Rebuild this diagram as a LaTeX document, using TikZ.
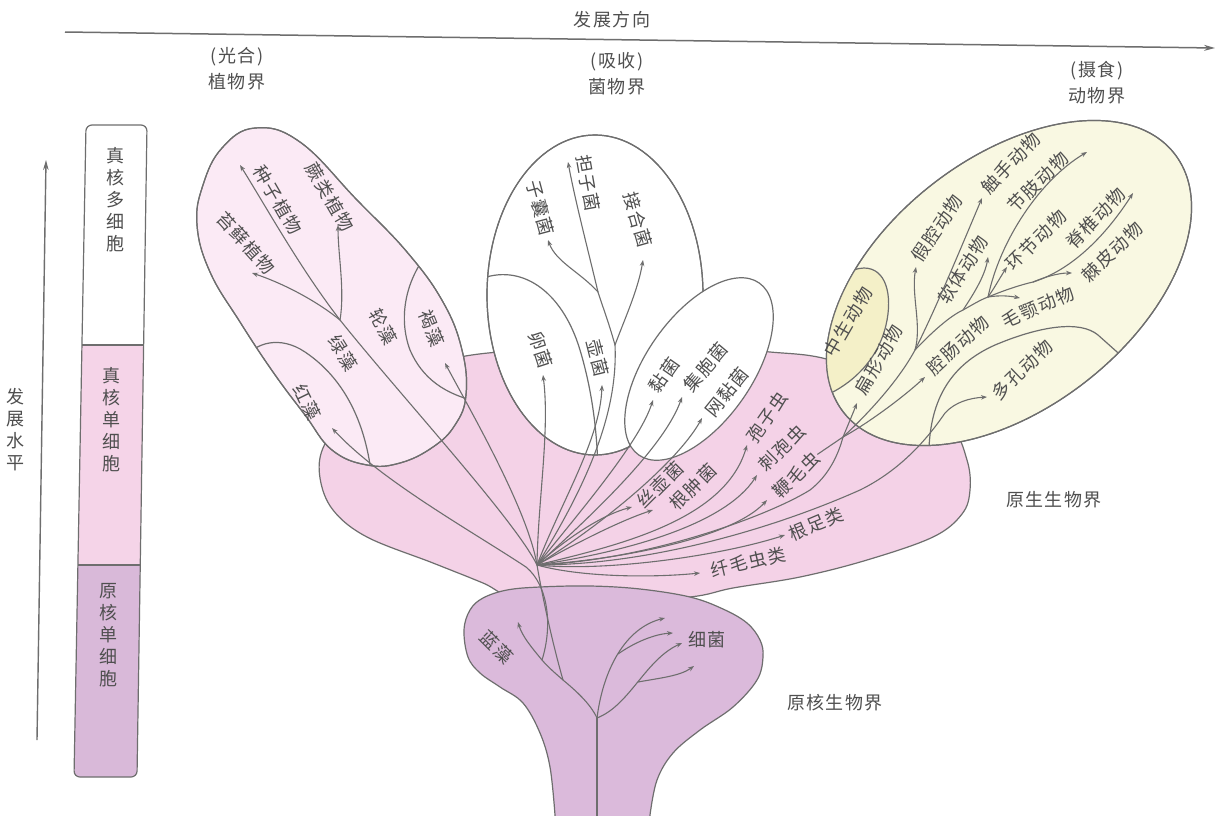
\documentclass[tikz,border=0pt]{standalone}
\usepackage{fontspec}
\setmainfont{Noto Sans CJK SC}[LetterSpace=8]
\usetikzlibrary{arrows.meta}
\definecolor{protC}{HTML}{F4D2E7}
\definecolor{prokC}{HTML}{DBBADB}
\definecolor{plantC}{HTML}{FBEAF5}
\definecolor{animC}{HTML}{F9F8E2}
\definecolor{mesoC}{HTML}{F4F0C8}
\definecolor{edgeC}{HTML}{6E6E6E}
\definecolor{txtC}{HTML}{4F4F4F}
\definecolor{barPink}{HTML}{F5D4E8}
\definecolor{barPurp}{HTML}{D9B9D9}
\newcommand\labfont{\fontsize{18}{22}\selectfont}
\newcommand\vfont{\fontsize{18}{22}\selectfont}
\newcommand\plantpath{plot[smooth cycle,tension=0.7] coordinates {(197,225) (203,185) (222,148) (255,128) (300,142) (357,200) (407,252) (443,302) (462,350) (466,395) (455,425) (433,447) (400,463) (367,465) (332,450) (305,415) (273,372) (240,322) (210,272)}}
\newcommand\fungipath{(595,295) ellipse [x radius=108pt, y radius=160pt]}
\newcommand\animpath{[rotate around={38:(1009,283)}] (1009,283) ellipse [x radius=210pt, y radius=125pt]}
\begin{document}
\begin{tikzpicture}[x=1pt,y=-1pt,
  lab/.style={text=txtC,font=\labfont,inner sep=1pt},
  vlab/.style={text=txtC,font=\vfont,align=center,inner sep=1pt},
  ln/.style={draw=edgeC,line width=1.1pt},
  arr/.style={ln,-{Stealth[length=6pt,width=4.5pt]}},
  shp/.style={draw=edgeC,line width=1.2pt}]
\useasboundingbox (0,0) rectangle (1223,815);
\clip (0,0) rectangle (1223,815);
\fill[white] (0,0) rectangle (1223,815);

% ---------- axes ----------
\coordinate (axL) at (65,32);
\coordinate (axR) at (1215,48);
\draw[ln,line width=1.5pt,-{Stealth[length=11pt,width=6pt]}] (axL) -- (axR);
\node[lab] (tDir) at (612,20) {发展方向};
\node[lab] (k1a) at (237,57) {(光合)};
\node[lab] (k1b) at (237,82) {植物界};
\node[lab] (k2a) at (617,62) {(吸收)};
\node[lab] (k2b) at (617,87) {菌物界};
\node[lab] (k3a) at (1097,71) {(摄食)};
\node[lab] (k3b) at (1097,96) {动物界};

\coordinate (vB) at (37,740);
\coordinate (vT) at (46,160);
\draw[ln,line width=1.4pt,-{Stealth[length=10pt,width=5.5pt]}] (vB) -- (vT);
\node[vlab] (lev) at (15,430) {发\\展\\水\\平};

% ---------- bar ----------
\begin{scope}
\clip[rounded corners=6pt] (86,125) -- (147,125) -- (137,777) -- (74,777) -- cycle;
\fill[white] (0,100) rectangle (200,800);
\fill[barPink] (0,345) rectangle (200,565);
\fill[barPurp] (0,565) rectangle (200,800);
\end{scope}
\draw[shp,rounded corners=6pt] (86,125) -- (147,125) -- (137,777) -- (74,777) -- cycle;
\draw[shp] (82,345) -- (143.6,345);
\draw[shp] (77.9,565) -- (140.3,565);
\node[vlab] (bar1) at (115,200) {真\\核\\多\\细\\胞};
\node[vlab] (bar2) at (111,420) {真\\核\\单\\细\\胞};
\node[vlab] (bar3) at (108,635) {原\\核\\单\\细\\胞};

% ---------- protist ----------
\path[shp,fill=protC] plot[smooth cycle,tension=0.6] coordinates {(600,603) (517,598) (483,583) (433,563) (367,537) (333,510) (320,478) (323,448) (345,420) (400,375) (460,357) (530,350) (620,348) (700,348) (770,352) (830,360) (900,390) (950,425) (967,460) (970,490) (962,514) (933,537) (867,560) (800,577) (733,588) (690,597)};

% ---------- prokaryote ----------
\path[shp,fill=prokC] (555,840) -- plot[smooth,tension=0.6] coordinates {(555,815) (550,767) (540,733) (523,703) (500,687) (480,673) (468,657) (464,630) (470,610) (483,598) (507,590) (540,587) (590,586) (640,589) (690,597) (723,609) (747,623) (760,640) (763,657) (757,680) (733,707) (700,730) (673,753) (657,780) (650,815)} -- (650,840) -- cycle;

% ---------- plants ----------
\path[shp,fill=plantC] \plantpath;
\begin{scope}
\clip \plantpath;
\draw[shp] (245,358) .. controls (255,343) and (280,335) .. (305,352) .. controls (335,372) and (365,410) .. (372,480);
\draw[shp] (432,248) .. controls (405,278) and (398,318) .. (410,350) .. controls (422,378) and (445,395) .. (480,402);
\end{scope}
\path[shp] \plantpath;

% ---------- fungi ----------
\path[shp,fill=white] \fungipath;
\begin{scope}
\clip \fungipath;
\draw[shp] (478,280) .. controls (520,262) and (562,290) .. (580,350) .. controls (592,390) and (597,430) .. (598,470);
\end{scope}
\path[shp] \fungipath;

% ---------- slime moulds ----------
\path[shp,fill=white,rotate around={55:(699,369)}] (699,369) ellipse [x radius=105pt, y radius=53pt];

% ---------- animals ----------
\path[shp,fill=animC] \animpath;
\begin{scope}
\clip \animpath;
\path[shp,fill=mesoC] (812,312) .. controls (835,280) and (850,268) .. (864,268) .. controls (886,268) and (893,295) .. (886,325) .. controls (878,360) and (850,390) .. (808,402) -- (770,402) -- (770,312) -- cycle;
\draw[shp] (928,470) -- (929,448) .. controls (931,400) and (950,365) .. (995,345) .. controls (1040,326) and (1080,320) .. (1098,335) -- (1135,368);
\end{scope}
\path[shp] \animpath;

% ---------- coordinates ----------
\coordinate (R) at (537,565);
\coordinate (T0) at (597,830);
\coordinate (B1) at (597,718);
\coordinate (Pm) at (563,680);
\coordinate (B2) at (542,660);
\coordinate (Q) at (526,567);
\coordinate (Bb) at (618,654);
\coordinate (Bc) at (638,682);
\coordinate (G) at (340,320);
\coordinate (F1) at (615,345);
\coordinate (F2) at (598,292);
\coordinate (Am) at (810,490);
\coordinate (A0) at (843,437);
\coordinate (A1) at (915,350);
\coordinate (A2) at (963,310);
\coordinate (A3) at (988,297);
\coordinate (A4) at (1033,282);
\coordinate (S1) at (860,490);
\coordinate (S2) at (945,413);
\coordinate (tCya) at (518,622);
\coordinate (tBa1) at (665,618);
\coordinate (tBa2) at (673,633);
\coordinate (tBa3) at (682,643);
\coordinate (tBa4) at (694,666);
\coordinate (tRed) at (332,428);
\coordinate (tSeed) at (240,165);
\coordinate (tMoss) at (252,273);
\coordinate (tFern) at (338,225);
\coordinate (tBrown) at (445,363);
\coordinate (tOo) at (543,375);
\coordinate (tChy) at (602,385);
\coordinate (tAsc) at (548,240);
\coordinate (tBas) at (568,162);
\coordinate (tZyg) at (643,260);
\coordinate (tMyx) at (653,400);
\coordinate (tDic) at (682,397);
\coordinate (tAcr) at (702,418);
\coordinate (tHyp) at (632,507);
\coordinate (tPla) at (653,510);
\coordinate (tSpo) at (747,445);
\coordinate (tCni) at (757,475);
\coordinate (tFla) at (767,500);
\coordinate (tRhi) at (785,535);
\coordinate (tCil) at (700,573);
\coordinate (tPlat) at (857,403);
\coordinate (tCoel) at (925,377);
\coordinate (tPseu) at (916,267);
\coordinate (tTent) at (982,198);
\coordinate (tMoll) at (988,257);
\coordinate (tAnne) at (1007,267);
\coordinate (tArth) at (1087,152);
\coordinate (tChae) at (1020,298);
\coordinate (tEchi) at (1072,273);
\coordinate (tVert) at (1133,193);
\coordinate (tPori) at (987,397);

% ---------- labels ----------
\node[lab,rotate=-60] (lSeed) at (278,200) {种子植物};
\node[lab,rotate=-60] (lFern) at (330,197) {蕨类植物};
\node[lab,rotate=-48] (lMoss) at (246,243) {苔藓植物};
\node[lab,rotate=-62] (lChara) at (383,327) {轮藻};
\node[lab,rotate=-68] (lBrown) at (432,328) {褐藻};
\node[lab,rotate=-58] (lGreen) at (343,353) {绿藻};
\node[lab,rotate=-64] (lRed) at (307,402) {红藻};
\node[lab,rotate=-75] (lAsc) at (540,208) {子囊菌};
\node[lab,rotate=-80] (lBas) at (588,183) {担子菌};
\node[lab,rotate=-74] (lZyg) at (638,220) {接合菌};
\node[lab,rotate=-72] (lOo) at (541,350) {卵菌};
\node[lab,rotate=-76] (lChy) at (598,358) {壶菌};
\node[lab,rotate=55] (lMyx) at (664,375) {黏菌};
\node[lab,rotate=50] (lDic) at (706,367) {集胞菌};
\node[lab,rotate=51] (lAcr) at (727,392) {网黏菌};
\node[lab,rotate=45] (lHyp) at (660,485) {丝壶菌};
\node[lab,rotate=45] (lPla) at (693,487) {根肿菌};
\node[lab,rotate=55] (lSpo) at (767,417) {孢子虫};
\node[lab,rotate=45] (lCni) at (782,448) {刺孢虫};
\node[lab,rotate=44] (lFla) at (796,475) {鞭毛虫};
\node[lab,rotate=23] (lRhi) at (816,524) {根足类};
\node[lab,rotate=13] (lCil) at (748,562) {纤毛虫类};
\node[lab,rotate=60] (lMeso) at (848,322) {中生动物};
\node[lab,rotate=60] (lPlat) at (879,360) {扁形动物};
\node[lab,rotate=43] (lCoel) at (958,345) {腔肠动物};
\node[lab,rotate=23] (lChae) at (1038,307) {毛颚动物};
\node[lab,rotate=44] (lPori) at (1022,370) {多孔动物};
\node[lab,rotate=56] (lPseu) at (937,228) {假腔动物};
\node[lab,rotate=58] (lMoll) at (963,270) {软体动物};
\node[lab,rotate=46] (lTent) at (1011,163) {触手动物};
\node[lab,rotate=45] (lArth) at (1038,182) {节肢动物};
\node[lab,rotate=45] (lAnne) at (1036,240) {环节动物};
\node[lab,rotate=46] (lVert) at (1096,218) {脊椎动物};
\node[lab,rotate=44] (lEchi) at (1112,252) {棘皮动物};
\node[lab,rotate=-45] (lCya) at (497,647) {蓝藻};
\node[lab] (lBac) at (707,640) {细菌};
\node[lab] (kProk) at (835,703) {原核生物界};
\node[lab] (kProt) at (1054,500) {原生生物界};

% ---------- lines: prokaryotes ----------
\draw[ln] (T0) -- (B1);
\draw[ln] (B1) .. controls (590,703) and (575,690) .. (Pm);
\draw[ln] (Pm) .. controls (555,673) and (548,667) .. (B2);
\draw[arr] (B2) .. controls (532,648) and (522,636) .. (tCya);
\draw[ln] (Pm) .. controls (553,645) and (543,600) .. (R);
\draw[ln] (B2) .. controls (553,625) and (548,585) .. (Q);
\draw[arr] (Q) .. controls (470,530) and (380,480) .. (tRed);
\draw[arr] (B1) .. controls (603,670) and (625,628) .. (tBa1);
\draw[arr] (Bb) .. controls (635,642) and (655,634) .. (tBa2);
\draw[arr] (B1) .. controls (630,705) and (645,660) .. (tBa3);
\draw[arr] (Bc) .. controls (660,678) and (680,676) .. (tBa4);

% ---------- plants ----------
\draw[ln] (R) .. controls (515,520) and (400,395) .. (G);
\draw[arr] (G) .. controls (300,268) and (268,210) .. (tSeed);
\draw[arr] (G) .. controls (318,302) and (285,284) .. (tMoss);
\draw[arr] (G) .. controls (345,290) and (338,255) .. (tFern);
\draw[arr] (R) .. controls (528,510) and (470,410) .. (tBrown);

% ---------- fungi ----------
\draw[arr] (R) .. controls (538,500) and (550,430) .. (tOo);
\draw[arr] (R) .. controls (562,500) and (600,440) .. (tChy);
\draw[ln] (R) .. controls (590,480) and (618,410) .. (F1);
\draw[arr] (F1) .. controls (625,318) and (638,290) .. (tZyg);
\draw[ln] (F1) .. controls (608,320) and (602,305) .. (F2);
\draw[arr] (F2) .. controls (588,250) and (575,200) .. (tBas);
\draw[arr] (F2) .. controls (580,272) and (556,262) .. (tAsc);

% ---------- slime moulds ----------
\draw[arr] (R) .. controls (590,500) and (640,440) .. (tMyx);
\draw[arr] (R) .. controls (600,508) and (665,445) .. (tDic);
\draw[arr] (R) .. controls (612,518) and (680,458) .. (tAcr);

% ---------- protists ----------
\draw[arr] (R) .. controls (570,535) and (605,514) .. (tHyp);
\draw[arr] (R) .. controls (578,542) and (622,520) .. (tPla);
\draw[arr] (R) .. controls (620,545) and (725,520) .. (tSpo);
\draw[arr] (R) .. controls (625,552) and (725,525) .. (tCni);
\draw[arr] (R) .. controls (635,558) and (735,535) .. (tFla);
\draw[arr] (R) .. controls (605,572) and (720,556) .. (tRhi);
\draw[arr] (R) .. controls (580,577) and (650,578) .. (tCil);

% ---------- animals ----------
\draw[ln] (R) .. controls (650,560) and (770,515) .. (Am);
\draw[ln] (Am) .. controls (828,476) and (838,456) .. (A0);
\draw[ln] (lFla.east) -- (A0);
\draw[ln] (R) .. controls (650,565) and (775,528) .. (S1);
\draw[ln] (S1) .. controls (905,468) and (932,432) .. (S2);
\draw[arr] (S2) .. controls (955,402) and (970,398) .. (tPori);
\draw[arr] (A0) .. controls (848,425) and (853,413) .. (tPlat);
\draw[arr] (A0) .. controls (865,425) and (900,400) .. (tCoel);
\draw[ln] (A0) .. controls (872,410) and (900,378) .. (A1);
\draw[arr] (A1) .. controls (922,325) and (911,295) .. (tPseu);
\draw[arr] (A1) .. controls (935,310) and (955,262) .. (tTent);
\draw[ln] (A1) .. controls (932,332) and (950,316) .. (A2);
\draw[arr] (A2) .. controls (975,292) and (985,275) .. (tMoll);
\draw[ln] (A2) .. controls (972,305) and (980,300) .. (A3);
\draw[arr] (A3) .. controls (995,287) and (1001,276) .. (tAnne);
\draw[arr] (A3) .. controls (1000,240) and (1040,180) .. (tArth);
\draw[arr] (A3) .. controls (1000,295) and (1010,296) .. (tChae);
\draw[ln] (A3) .. controls (1005,290) and (1020,285) .. (A4);
\draw[arr] (A4) .. controls (1045,277) and (1058,273) .. (tEchi);
\draw[arr] (A4) .. controls (1078,268) and (1112,226) .. (tVert);
\end{tikzpicture}
\end{document}
